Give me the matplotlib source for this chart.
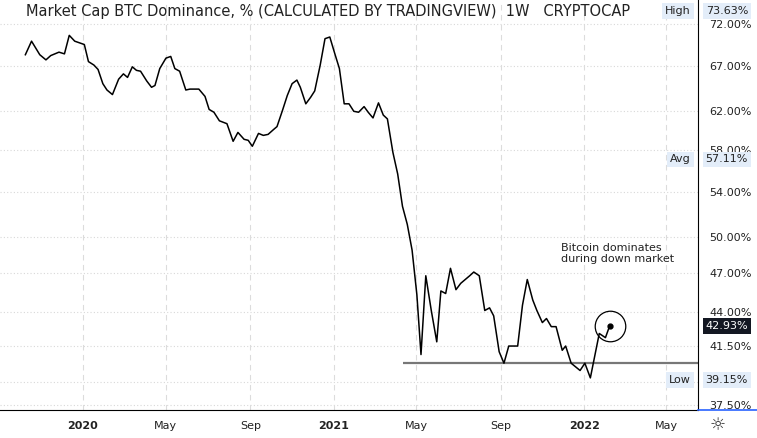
import numpy as np
import pandas as pd
import matplotlib
matplotlib.use("Agg")
import matplotlib.pyplot as plt
import matplotlib.transforms as mtransforms

# days since 2020-01-01 and BTC dominance (%)
day_offset = [-84, -75, -63, -54, -47, -35, -27, -20, -12, 2, 8, 16, 22, 29, 35, 43, 52, 59, 65, 72,
              78, 84, 93, 100, 105, 112, 121, 128, 134, 141, 150, 156, 169, 178, 184, 191, 199, 210,
              219, 226, 235, 241, 247, 256, 263, 270, 278, 283, 291, 298, 305, 312, 317, 325, 332, 338,
              346, 353, 360, 367, 374, 381, 388, 395, 402, 410, 416, 423, 431, 438, 444, 452, 459, 466,
              473, 480, 487, 493, 500, 508, 516, 522, 529, 536, 544, 551, 564, 570, 578, 586, 593, 599,
              607, 614, 621, 634, 641, 648, 656, 662, 670, 676, 683, 690, 699, 704, 712, 725, 732, 740,
              753, 762, 768]
dominance = [68.3, 69.9, 68.3, 67.7, 68.2, 68.6, 68.4, 70.6, 69.9, 69.5, 67.5, 67.1, 66.6, 65.0, 64.3,
             63.8, 65.5, 66.1, 65.7, 66.9, 66.5, 66.4, 65.3, 64.6, 64.8, 66.7, 67.9, 68.1, 66.7, 66.4,
             64.3, 64.4, 64.4, 63.6, 62.2, 61.9, 61.0, 60.7, 58.9, 59.8, 59.1, 59.0, 58.4, 59.7, 59.5,
             59.6, 60.1, 60.4, 62.1, 63.7, 65.0, 65.4, 64.6, 62.8, 63.5, 64.2, 67.1, 70.2, 70.4, 68.5,
             66.7, 62.8, 62.8, 62.0, 61.9, 62.5, 61.9, 61.3, 62.9, 61.6, 61.2, 57.8, 55.7, 52.7, 51.1,
             48.9, 45.3, 40.9, 46.8, 44.1, 41.8, 45.6, 45.4, 47.4, 45.7, 46.2, 46.8, 47.1, 46.8, 44.1,
             44.3, 43.7, 41.1, 40.3, 41.5, 41.5, 44.5, 46.5, 44.9, 44.1, 43.2, 43.5, 42.9, 42.9, 41.2,
             41.5, 40.3, 39.8, 40.3, 39.3, 42.4, 42.1, 42.93]
dates = pd.to_datetime("2020-01-01") + pd.to_timedelta(day_offset, unit="D")

ytick_vals = [37.5, 41.5, 44.0, 47.0, 50.0, 54.0, 58.0, 62.0, 67.0, 72.0]
xtick_dates = pd.to_datetime(["2020-01-01", "2020-05-01", "2020-09-01", "2021-01-01",
                              "2021-05-01", "2021-09-01", "2022-01-01", "2022-05-01"])
xtick_labels = ["2020", "May", "Sep", "2021", "May", "Sep", "2022", "May"]
bold_ticks = {"2020", "2021", "2022"}
support_level = 40.3
high_val, avg_val, low_val, last_val = 73.63, 57.11, 39.15, 42.93

x_start = pd.Timestamp("2020-01-01") - pd.Timedelta(days=121)
x_end = pd.Timestamp("2020-01-01") + pd.Timedelta(days=897)

fig = plt.figure(figsize=(7.57, 4.38), dpi=100)
ax = fig.add_axes([0, 28 / 438, 698 / 757, 410 / 438])
ax.set_yscale("log")
ax.set_ylim(37.2, 75.0)

ax.plot(dates, dominance, color="black", lw=1.1)

# grid
for v in ytick_vals + [39.0]:
    ax.axhline(v, color="#d8d8d8", lw=0.8, ls=(0, (1, 2)), zorder=0)
for d in xtick_dates:
    ax.axvline(d, color="#dcdcdc", lw=0.8, ls=(0, (5, 4)), zorder=0)

# support line
ax.plot([pd.Timestamp("2021-04-12"), x_end], [support_level, support_level],
        color="#777777", lw=1.6, solid_capstyle="butt", zorder=1)
ax.set_xlim(x_start, x_end)

# last point + circle
ax.plot(dates[-1], dominance[-1], "o", color="black", ms=3.5)
ax.plot(dates[-1], dominance[-1], "o", mfc="none", mec="black", ms=22, mew=0.9)
ax.text(pd.Timestamp("2021-11-28"), 48.6, "Bitcoin dominates\nduring down market",
        fontsize=8, color="#222222", va="center")

fig.text(0.035, 0.99, "Market Cap BTC Dominance, % (CALCULATED BY TRADINGVIEW)  1W   CRYPTOCAP",
         fontsize=10.5, va="top", ha="left", color="#222222")

# axes styling
for s in ["top", "left"]:
    ax.spines[s].set_visible(False)
ax.yaxis.tick_right()
ax.minorticks_off()
ax.set_yticks(ytick_vals)
ax.set_yticklabels(["%.2f%%" % v for v in ytick_vals], fontsize=8, color="#222222")
ax.tick_params(axis="y", length=0, pad=8)
ax.set_xticks(xtick_dates)
ax.set_xticklabels(xtick_labels, fontsize=8, color="#222222")
for lab in ax.get_xticklabels():
    if lab.get_text() in bold_ticks:
        lab.set_fontweight("bold")
ax.tick_params(axis="x", length=0, pad=8)

# value boxes on the price scale
trans = mtransforms.blended_transform_factory(ax.transAxes, ax.transData)
box_style = dict(boxstyle="square,pad=0.25", fc="#e3edf9", ec="none")
for name, val in [("High", high_val), ("Avg", avg_val), ("Low", low_val)]:
    yv = min(val, 74.3)
    ax.text(1.011, yv, "%.2f%%" % val, transform=trans, fontsize=8, va="center", ha="left",
            color="#222222", bbox=box_style, clip_on=False, zorder=5)
    ax.text(0.99, yv, name, transform=trans, fontsize=8, va="center", ha="right",
            color="#222222", bbox=box_style, clip_on=False, zorder=5)
ax.text(1.011, last_val, "%.2f%%" % last_val, transform=trans, fontsize=8, va="center", ha="left",
        color="white", bbox=dict(boxstyle="square,pad=0.25", fc="#131722", ec="none"),
        clip_on=False, zorder=5)

fig.add_artist(plt.Line2D([698 / 757, 1], [28 / 438, 28 / 438], color="#2962ff", lw=1.2))
fig.text(718 / 757, 13 / 438, "\u263c", fontsize=13, ha="center", va="center", color="#333333")

fig.savefig("out.png", dpi=100)
